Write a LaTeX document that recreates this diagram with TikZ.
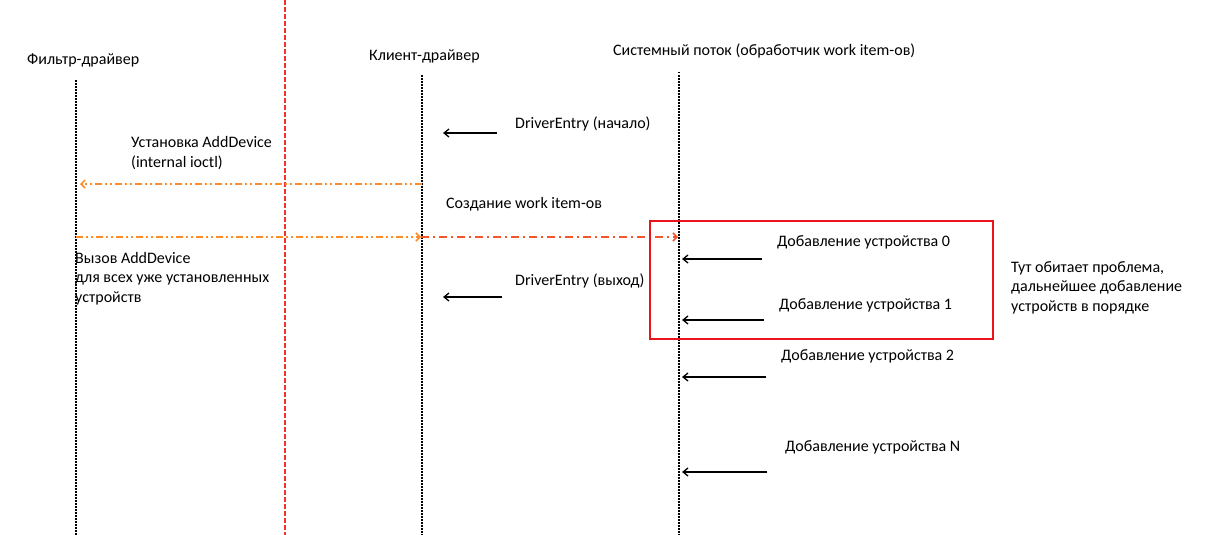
\documentclass[tikz,border=0pt]{standalone}
\usepackage{fontspec}
\setmainfont{Carlito}
\usetikzlibrary{arrows.meta}
\definecolor{orng}{RGB}{255,140,40}
\definecolor{redorng}{RGB}{245,85,40}
\definecolor{boxred}{RGB}{235,20,30}
\definecolor{dashred}{RGB}{240,50,50}
\tikzset{
  lbl/.style={anchor=base west, inner sep=0pt, font=\fontsize{16}{19.5}\selectfont, align=left},
  lifeline/.style={line width=1.5pt, dash pattern=on 1.5pt off 1.5pt, black},
  msg/.style={line width=1.3pt, black, -{Straight Barb[length=5pt,width=8pt]}},
  omsg/.style={line width=1.5pt, orng, dash pattern=on 7pt off 3pt on 2pt off 3pt on 2pt off 3pt, -{Straight Barb[length=4pt,width=8pt]}},
  rmsg/.style={line width=1.5pt, redorng, dash pattern=on 8pt off 4pt on 2pt off 4pt, -{Straight Barb[length=4pt,width=8pt]}}
}
\begin{document}
\begin{tikzpicture}[x=1pt,y=-1pt]
\useasboundingbox (0,0) rectangle (1207,535);
% headers
\node[lbl] (h1) at (27,65) {Фильтр-драйвер};
\node[lbl] (h2) at (369,60) {Клиент-драйвер};
\node[lbl] (h3) at (613,56) {Системный поток (обработчик work item-ов)};
% lifelines
\coordinate (l1t) at (76,80); \coordinate (l1b) at (76,535);
\coordinate (l2t) at (422,75); \coordinate (l2b) at (422,535);
\coordinate (l3t) at (679,72); \coordinate (l3b) at (679,535);
\draw[lifeline] (l1t) -- (l1b);
\draw[lifeline] (l2t) -- (l2b);
\draw[lifeline] (l3t) -- (l3b);
% red separator
\coordinate (st) at (285,0); \coordinate (sb) at (285,535);
\draw[dashred, line width=1.5pt, dash pattern=on 5pt off 2pt] (st) -- (sb);
% DriverEntry start
\node[lbl] (de1) at (515,128) {DriverEntry (начало)};
\coordinate (a1s) at (497,133); \coordinate (a1e) at (443,133);
\draw[msg] (a1s) -- (a1e);
% AddDevice set
\node[lbl] (ad) at (131,167) {Установка AddDevice\\(internal ioctl)};
\coordinate (o1s) at (422,184); \coordinate (o1e) at (80,184);
\draw[omsg] (o1s) -- (o1e);
% work items
\node[lbl] (wi) at (446,208) {Создание work item-ов};
\coordinate (o2s) at (76,237); \coordinate (o2m) at (421,237); \coordinate (o2e) at (678,237);
\draw[omsg] (o2s) -- (o2m);
\draw[rmsg] (o2m) -- (o2e);
\node[lbl] (call) at (75,302) {Вызов AddDevice\\для всех уже установленных\\устройств};
% DriverEntry exit
\node[lbl] (de2) at (515,285) {DriverEntry (выход)};
\coordinate (a2s) at (502,297); \coordinate (a2e) at (443,297);
\draw[msg] (a2s) -- (a2e);
% red box
\coordinate (bx1) at (650,221); \coordinate (bx2) at (993,339);
\draw[boxred, line width=1.5pt] (bx1) rectangle (bx2);
% device adds
\node[lbl] (d0) at (777,246) {Добавление устройства 0};
\coordinate (b0s) at (762,259); \coordinate (b0e) at (682,259);
\draw[msg] (b0s) -- (b0e);
\node[lbl] (d1) at (779,309) {Добавление устройства 1};
\coordinate (b1s) at (764,320); \coordinate (b1e) at (682,320);
\draw[msg] (b1s) -- (b1e);
\node[lbl] (d2) at (781,360) {Добавление устройства 2};
\coordinate (b2s) at (766,377); \coordinate (b2e) at (682,377);
\draw[msg] (b2s) -- (b2e);
\node[lbl] (dn) at (785,451) {Добавление устройства N};
\coordinate (bns) at (767,472); \coordinate (bne) at (682,472);
\draw[msg] (bns) -- (bne);
% note
\node[lbl] (note) at (1011,311) {Тут обитает проблема,\\дальнейшее добавление\\устройств в порядке};
\end{tikzpicture}
\end{document}
